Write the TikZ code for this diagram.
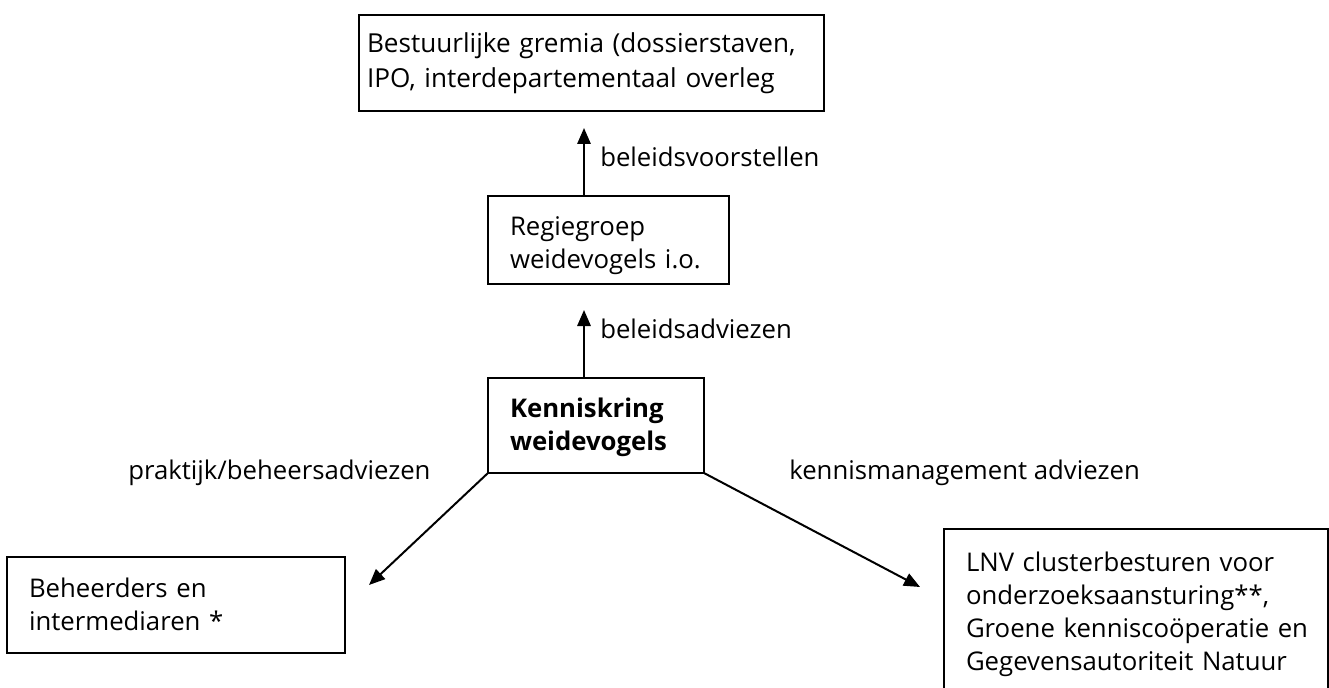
\documentclass[tikz,border=0pt]{standalone}
\usepackage{fontspec}
\setmainfont{Open Sans}
\usetikzlibrary{arrows.meta}
\begin{document}
\begin{tikzpicture}[x=0.75pt,y=-0.75pt,
  every node/.style={font=\fontsize{19.3pt}{24.75pt}\selectfont},
  box/.style={draw, line width=1.3pt, anchor=north west, align=left, inner ysep=0pt, outer sep=0pt},
  lbl/.style={anchor=base west, inner sep=0pt},
  arr/.style={line width=1.5pt, -{Triangle[length=12pt,width=10pt]}}]
\useasboundingbox[fill=white] (0,0) rectangle (1329,688);
% boxes
\node[box, minimum width=348.75pt, inner xsep=6pt, text width=336.75pt,
  text height=28.5pt, text depth=43.5pt, font=\fontsize{19.6pt}{26.25pt}\selectfont] (top) at (359,15)
  {\mbox{Bestuurlijke gremia (dossierstaven,}\\\mbox{IPO, interdepartementaal overleg}};
\node[box, minimum width=180.75pt, inner xsep=16.5pt, text width=147.75pt,
  text height=30pt, text depth=36pt] (reg) at (488,196)
  {\mbox{Regiegroep}\\\mbox{weidevogels i.o.}};
\node[box, minimum width=162pt, inner xsep=16.5pt, text width=129pt,
  text height=29.25pt, text depth=42pt, font=\fontsize{19.3pt}{24.75pt}\selectfont\bfseries] (ken) at (488,378)
  {\mbox{Kenniskring}\\\mbox{weidevogels}};
\node[box, minimum width=253.5pt, inner xsep=16.5pt, text width=220.5pt,
  text height=30pt, text depth=42pt] (beh) at (7,557)
  {\mbox{Beheerders en}\\\mbox{intermediaren *}};
\node[box, minimum width=288pt, inner xsep=16.5pt, text width=255pt,
  text height=31.5pt, text depth=96.75pt] (lnv) at (944,529)
  {\mbox{LNV clusterbesturen voor}\\\mbox{onderzoeksaansturing**,}\\\mbox{Groene kenniscoöperatie en}\\\mbox{Gegevensautoriteit Natuur}};
% arrow tips
\coordinate (t1) at (584,128);
\coordinate (t2) at (584,310);
\coordinate (t3) at (369,585);
\coordinate (t4) at (920,587);
\draw[arr] (reg.north -| t1) -- (t1);
\draw[arr] (ken.north -| t2) -- (t2);
\draw[arr] (ken.south west) -- (t3);
\draw[arr] (ken.south east) -- (t4);
% labels
\node[lbl] (l1) at (600,167) {beleidsvoorstellen};
\node[lbl] (l2) at (600,338) {beleidsadviezen};
\node[lbl] (l3) at (128,479) {praktijk/beheersadviezen};
\node[lbl] (l4) at (789,479) {kennismanagement adviezen};
\end{tikzpicture}
\end{document}
